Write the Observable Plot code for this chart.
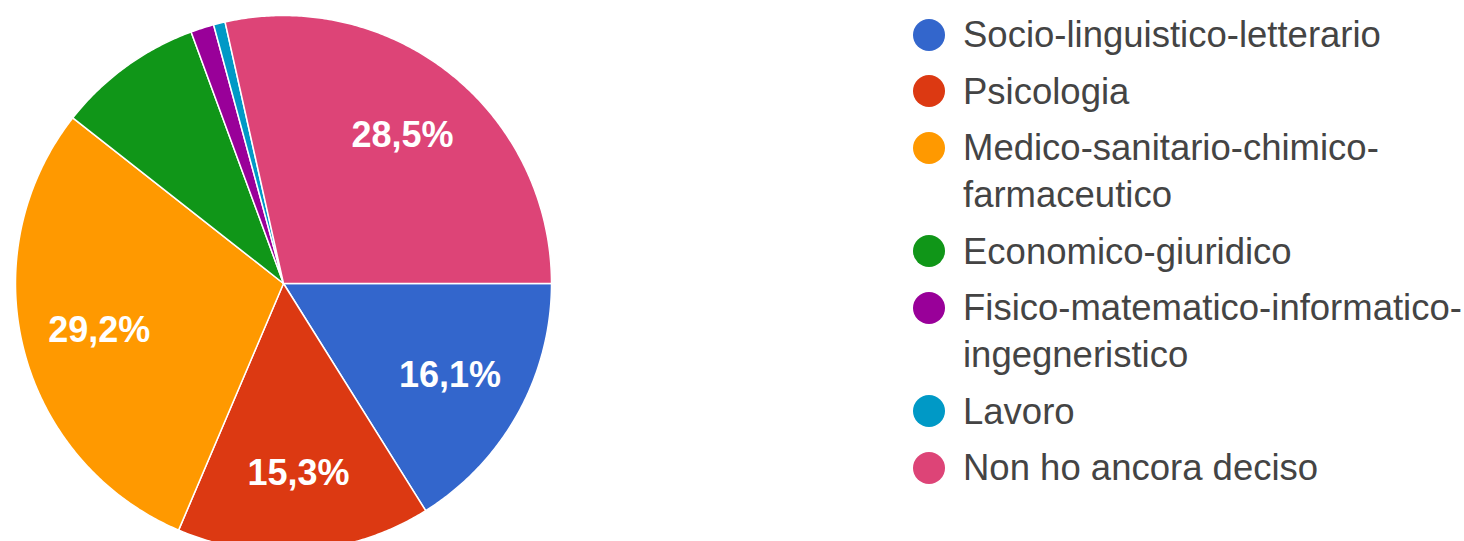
<!DOCTYPE html>
<html>
<head>
<meta charset="utf-8">
<script src="https://cdn.jsdelivr.net/npm/d3@7"></script>
<script src="https://cdn.jsdelivr.net/npm/@observablehq/plot@0.6"></script>
<style>
  html, body { margin: 0; padding: 0; background: #ffffff; }
  #wrap { position: relative; width: 1464px; height: 541px; overflow: hidden; }
  #pie { position: absolute; left: 0; top: 0; }
  #legend {
    position: absolute; left: 913px; top: 11px; width: 580px;
    font-family: "Liberation Sans", Arial, sans-serif; font-size: 36.5px; color: #444;
    display: flex; flex-direction: column; gap: 9.5px;
  }
  .item { display: flex; align-items: flex-start; }
  .dot { width: 32px; height: 32px; border-radius: 50%; flex: none; margin-top: 7.5px; margin-right: 18px; }
  .lab { line-height: 47px; max-width: 512px; }
</style>
</head>
<body>
<div id="wrap">
  <div id="pie"></div>
  <div id="legend"></div>
</div>
<script>
const categories = [
  "Socio-linguistico-letterario",
  "Psicologia",
  "Medico-sanitario-chimico-farmaceutico",
  "Economico-giuridico",
  "Fisico-matematico-informatico-ingegneristico",
  "Lavoro",
  "Non ho ancora deciso"
];
const values = [16.1, 15.3, 29.2, 8.8, 1.4, 0.7, 28.5];
const colors = ["#3366cc", "#dc3912", "#ff9900", "#109618", "#990099", "#0099c6", "#dd4477"];
const startAngle = 90; // degrees, clockwise from 12 o'clock

const total = d3.sum(values);
const pts = [];
const labels = [];
let acc = startAngle;
categories.forEach((cat, i) => {
  const span = values[i] / total * 360;
  const a0 = acc, a1 = acc + span;
  pts.push({cat, x: 0, y: 0});
  const n = Math.max(2, Math.ceil(span / 0.5));
  for (let k = 0; k <= n; k++) {
    const a = (a0 + (a1 - a0) * k / n) * Math.PI / 180;
    pts.push({cat, x: Math.sin(a), y: Math.cos(a)});
  }
  if (values[i] >= 10) {
    const m = (a0 + a1) / 2 * Math.PI / 180;
    labels.push({cat, x: 0.71 * Math.sin(m), y: 0.71 * Math.cos(m),
      text: values[i].toFixed(1).replace(".", ",") + "%"});
  }
  acc = a1;
});

const chart = Plot.plot({
  width: 566,
  height: 541,
  x: {domain: [-1, 1], range: [15, 551], axis: null},
  y: {domain: [-1, 1], range: [551, 15], axis: null},
  color: {domain: categories, range: colors},
  style: {background: "transparent"},
  marks: [
    Plot.line(pts, {x: "x", y: "y", z: "cat", fill: "cat", stroke: "white", strokeWidth: 1.5, curve: "linear-closed"}),
    Plot.text(labels, {x: "x", y: "y", text: "text", fill: "white", fontSize: 36, fontWeight: "bold",
      fontFamily: "Liberation Sans, Arial, sans-serif"})
  ]
});
document.getElementById("pie").appendChild(chart);

const legend = document.getElementById("legend");
categories.forEach((cat, i) => {
  const item = document.createElement("div");
  item.className = "item";
  const dot = document.createElement("div");
  dot.className = "dot";
  dot.style.background = colors[i];
  const lab = document.createElement("div");
  lab.className = "lab";
  lab.textContent = cat;
  item.appendChild(dot);
  item.appendChild(lab);
  legend.appendChild(item);
});
</script>
</body>
</html>
